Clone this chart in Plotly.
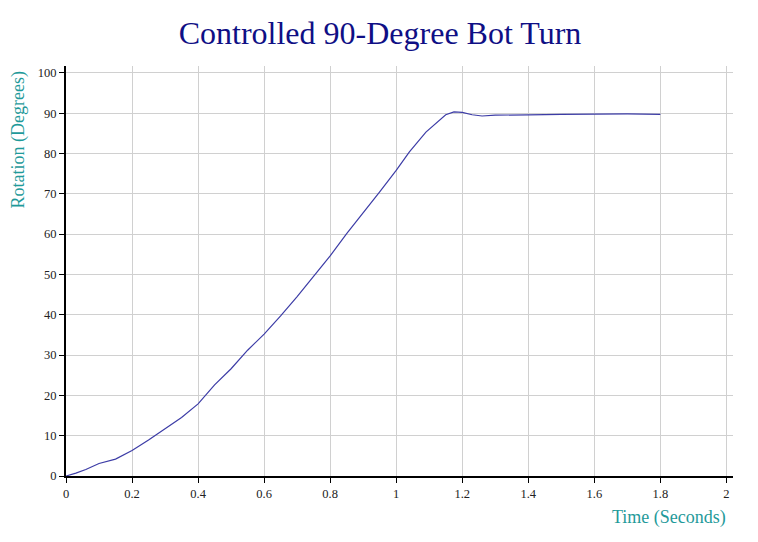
import plotly.graph_objects as go

time_s = [0, 0.03, 0.06, 0.1, 0.15, 0.2, 0.25, 0.3, 0.35, 0.4, 0.45, 0.5, 0.55, 0.6, 0.65, 0.7,
          0.75, 0.8, 0.85, 0.9, 0.95, 1.0, 1.04, 1.09, 1.15, 1.175, 1.2, 1.23, 1.26, 1.3, 1.35,
          1.4, 1.5, 1.6, 1.7, 1.8]
rotation_deg = [0, 0.7, 1.6, 3.1, 4.2, 6.3, 8.9, 11.6, 14.5, 17.9, 22.6, 26.6, 31.2, 35.2, 39.7, 44.5,
                49.5, 54.6, 60.1, 65.2, 70.5, 75.8, 80.4, 85.3, 89.6, 90.3, 90.2, 89.6, 89.3, 89.5, 89.6,
                89.6, 89.7, 89.8, 89.8, 89.7]

x_ticks = [0, 0.2, 0.4, 0.6, 0.8, 1, 1.2, 1.4, 1.6, 1.8, 2]
x_tick_labels = ["0", "0.2", "0.4", "0.6", "0.8", "1", "1.2", "1.4", "1.6", "1.8", "2"]
y_ticks = [0, 10, 20, 30, 40, 50, 60, 70, 80, 90, 100]

font_family = "Liberation Serif, Times New Roman, serif"

# page body has an 8px margin; figure sized so it fills the window exactly
W, H = 750, 534
L, R, T, B = 58, 25, 58, 66
pw, ph = W - L - R, H - T - B

fig = go.Figure()
fig.add_trace(go.Scatter(x=time_s, y=rotation_deg, mode="lines",
                         line=dict(color="#3c3ca6", width=1.2), showlegend=False))

fig.update_layout(
    width=W, height=H,
    margin=dict(l=L, r=R, t=T, b=B),
    paper_bgcolor="white", plot_bgcolor="white",
    font=dict(family=font_family, size=12, color="#222"),
    title=dict(text="Controlled 90-Degree Bot Turn", x=(380 - 8) / W, xref="container",
               xanchor="center", y=1 - 25 / H, yanchor="middle",
               font=dict(family=font_family, size=32, color="#0f0f85")),
    xaxis=dict(range=[0, 2.02], tickvals=x_ticks, ticktext=x_tick_labels,
               showgrid=True, gridcolor="#d0d0d0", gridwidth=1.2,
               showline=True, linecolor="black", linewidth=2,
               ticks="outside", ticklen=5, tickwidth=1.2, tickcolor="black",
               zeroline=False, tickfont=dict(family=font_family, size=12.5, color="#222")),
    yaxis=dict(range=[0, 101.7], tickvals=y_ticks,
               showgrid=True, gridcolor="#d0d0d0", gridwidth=1.2,
               showline=True, linecolor="black", linewidth=2,
               ticks="outside", ticklen=5, tickwidth=1.2, tickcolor="black",
               zeroline=False, tickfont=dict(family=font_family, size=12.5, color="#222")),
    annotations=[
        dict(text="Rotation (Degrees)", textangle=-90, xref="paper", yref="paper",
             x=-48 / pw, xanchor="center", y=1 - 4 / ph, yanchor="top", showarrow=False,
             font=dict(family=font_family, size=18, color="#1f9a9a")),
        dict(text="Time (Seconds)", xref="paper", yref="paper",
             x=(728 - 66) / pw, xanchor="right", y=-(517 - 476) / ph, yanchor="middle",
             showarrow=False, font=dict(family=font_family, size=18, color="#1f9a9a")),
    ],
)

fig.write_html("out.html")
